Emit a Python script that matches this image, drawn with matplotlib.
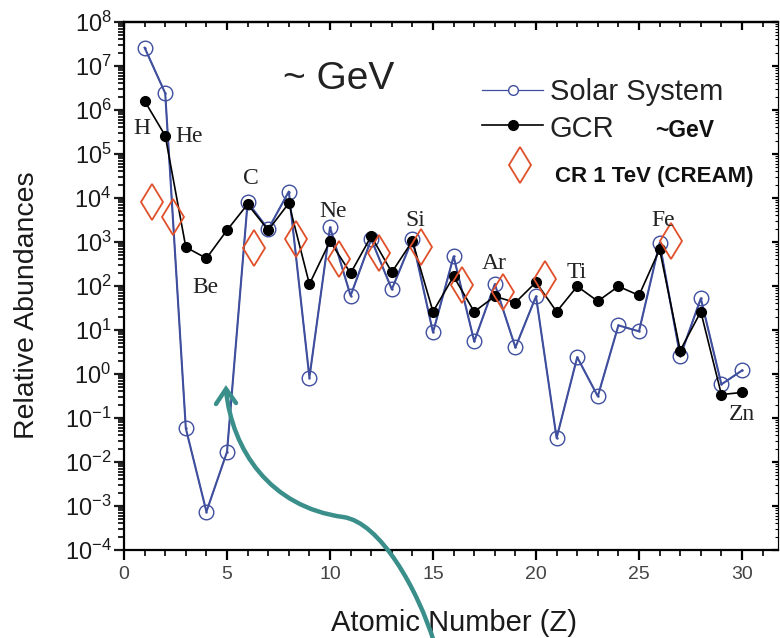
import numpy as np
import matplotlib
matplotlib.use("Agg")
import matplotlib.pyplot as plt
from matplotlib.ticker import LogLocator, MultipleLocator, NullFormatter
from matplotlib.path import Path
from matplotlib.patches import PathPatch
from matplotlib.lines import Line2D

plt.rcParams['font.family'] = ['Liberation Sans', 'DejaVu Sans']
plt.rcParams['mathtext.default'] = 'regular'

# atomic number and relative abundances
Z = list(range(1, 31))
solar = [2.6e7, 2.4e6, 0.058, 7.4e-4, 0.017, 8000, 1950, 1.4e4, 0.83, 2150,
         60, 1150, 84, 1150, 8.8, 470, 5.5, 110, 4.0, 58,
         0.035, 2.4, 0.31, 12.7, 9.3, 950, 2.5, 52, 0.58, 1.2]
gcr = [1.6e6, 2.6e5, 760, 425, 1850, 7200, 1850, 7600, 110, 1040,
       195, 1350, 205, 1050, 26, 165, 26, 58, 42, 122,
       26, 98, 45, 98, 61, 680, 3.4, 26, 0.34, 0.38]

# CREAM points at ~1 TeV (plotted slightly offset in Z)
cream_z = [1.36, 2.37, 6.32, 8.37, 10.43, 12.4, 14.44, 16.43, 18.42, 20.45, 26.56]
cream = [8000, 3650, 720, 1150, 400, 550, 760, 103, 72, 141, 1040]

# element labels
elements = ['H', 'He', 'C', 'Be', 'Ne', 'Si', 'Ar', 'Ti', 'Fe', 'Zn']
label_x = [0.44, 2.47, 5.77, 3.34, 9.5, 13.67, 17.35, 21.47, 25.6, 29.37]
label_logy = [5.45, 5.27, 4.31, 1.85, 3.56, 3.36, 2.38, 2.17, 3.36, -1.04]

blue = '#3f4f9e'
red = '#e0502a'
teal = '#3a8f8b'

fig = plt.figure(figsize=(7.8, 6.38), dpi=100)
ax = fig.add_axes([0.159, 0.138, 0.8385, 0.8276])

ax.plot(Z, solar, '-', color=blue, lw=0.9, marker='o', ms=10.5,
        mfc='white', mec=blue, mew=1.0, zorder=2)
ax.plot(Z, solar, 'none', marker='.', ms=1.5, color=blue, zorder=2)
ax.plot(Z, gcr, '-', color='black', lw=1.2, marker='o', ms=7,
        mfc='black', mec='black', zorder=3)
ax.plot(cream_z, cream, 'none', marker='d', ms=18, mfc='none',
        mec=red, mew=1.3, zorder=4)

ax.set_yscale('log')
ax.set_xlim(0, 31.75)
ax.set_ylim(1e-4, 1e8)

ax.xaxis.set_major_locator(MultipleLocator(5))
ax.xaxis.set_minor_locator(MultipleLocator(1))
ax.yaxis.set_major_locator(LogLocator(base=10, numticks=100))
ax.yaxis.set_minor_locator(LogLocator(base=10, subs=np.arange(2, 10), numticks=100))
ax.yaxis.set_minor_formatter(NullFormatter())

ax.tick_params(axis='both', which='major', direction='out', length=7.5, width=1.6)
ax.tick_params(axis='both', which='minor', direction='out', length=4, width=1.2)
ax.tick_params(axis='y', which='major', labelsize=17, pad=1.5, colors='#1a1a1a')
ax.tick_params(axis='x', which='major', labelsize=14, pad=4, labelcolor='#444444')
ax.tick_params(top=False, right=False, which='both')

for side in ['left', 'bottom', 'top']:
    ax.spines[side].set_linewidth(1.6)
ax.spines['right'].set_linewidth(0.8)

# mirrored ticks pointing inward on top and right
top = ax.secondary_xaxis('top')
top.xaxis.set_major_locator(MultipleLocator(5))
top.xaxis.set_minor_locator(MultipleLocator(1))
top.tick_params(which='major', direction='in', length=6, width=1.6, labeltop=False)
top.tick_params(which='minor', direction='in', length=3.5, width=1.2)
top.spines['top'].set_linewidth(1.6)

right = ax.secondary_yaxis('right')
right.yaxis.set_major_locator(LogLocator(base=10, numticks=100))
right.yaxis.set_minor_locator(LogLocator(base=10, subs=np.arange(2, 10), numticks=100))
right.tick_params(which='major', direction='in', length=4, width=1.6, labelright=False)
right.tick_params(which='minor', direction='in', length=2, width=0.8, labelright=False)
right.spines['right'].set_linewidth(0.8)

ax.set_xlabel('Atomic Number (Z)', fontsize=21, color='#1a1a1a')
ax.xaxis.set_label_coords(0.505, -0.112)
ax.set_ylabel('Relative Abundances', fontsize=20.5, color='#1a1a1a')
ax.yaxis.set_label_coords(-0.128, 0.464)

for name, x, ly in zip(elements, label_x, label_logy):
    ax.text(x, 10 ** ly, name, family=['Liberation Serif', 'DejaVu Serif'],
            fontsize=17, ha='left', va='baseline', color='#222222', zorder=5)

ax.text(7.7, 10 ** 6.48, '~ GeV', fontsize=28, ha='left', va='baseline',
        color='#222222')

# legend drawn by hand to keep its odd layout
narrow = ['Liberation Sans Narrow', 'Liberation Sans', 'DejaVu Sans']
tr = ax.transAxes
ax.add_line(Line2D([0.547, 0.641], [0.871, 0.871], color=blue, lw=0.9, transform=tr))
ax.add_line(Line2D([0.594], [0.871], marker='o', ms=7, mfc='white', mec=blue,
                   mew=1.0, transform=tr))
ax.add_line(Line2D([0.547, 0.641], [0.805, 0.805], color='black', lw=1.2, transform=tr))
ax.add_line(Line2D([0.594], [0.805], marker='o', ms=7, color='black', transform=tr))
ax.add_line(Line2D([0.606], [0.729], marker='d', ms=18, mfc='none', mec=red,
                   mew=1.3, transform=tr))
ax.text(0.651, 0.852, 'Solar System', transform=tr, fontsize=21, color='#222222')
ax.text(0.651, 0.782, 'GCR', transform=tr, fontsize=21, color='#222222')
ax.text(0.812, 0.782, '~GeV', transform=tr, fontsize=16.5, family=narrow,
        weight='bold', color='#111111')
ax.text(0.659, 0.697, 'CR 1 TeV (CREAM)', transform=tr, fontsize=16,
        family=narrow, weight='bold', color='#111111')

# teal curved arrow (annotation in figure pixels)
W, H = 780.0, 638.0
def fp(x, y):
    return (x / W, 1 - y / H)

verts = [fp(434, 642), fp(418, 590), fp(380, 522), fp(343, 517),
         fp(270, 507), fp(232, 450), fp(226, 390)]
codes = [Path.MOVETO] + [Path.CURVE4] * 6
fig.add_artist(PathPatch(Path(verts, codes), fc='none', ec=teal, lw=3.2,
                         transform=fig.transFigure, zorder=10, clip_on=False,
                         capstyle='round'))
hx, hy = zip(fp(216, 404), fp(226, 389), fp(236, 403))
fig.add_artist(Line2D(hx, hy, color=teal, lw=3.2, transform=fig.transFigure,
                      zorder=10, solid_capstyle='round', solid_joinstyle='miter'))

fig.savefig('out.png', dpi=100)
